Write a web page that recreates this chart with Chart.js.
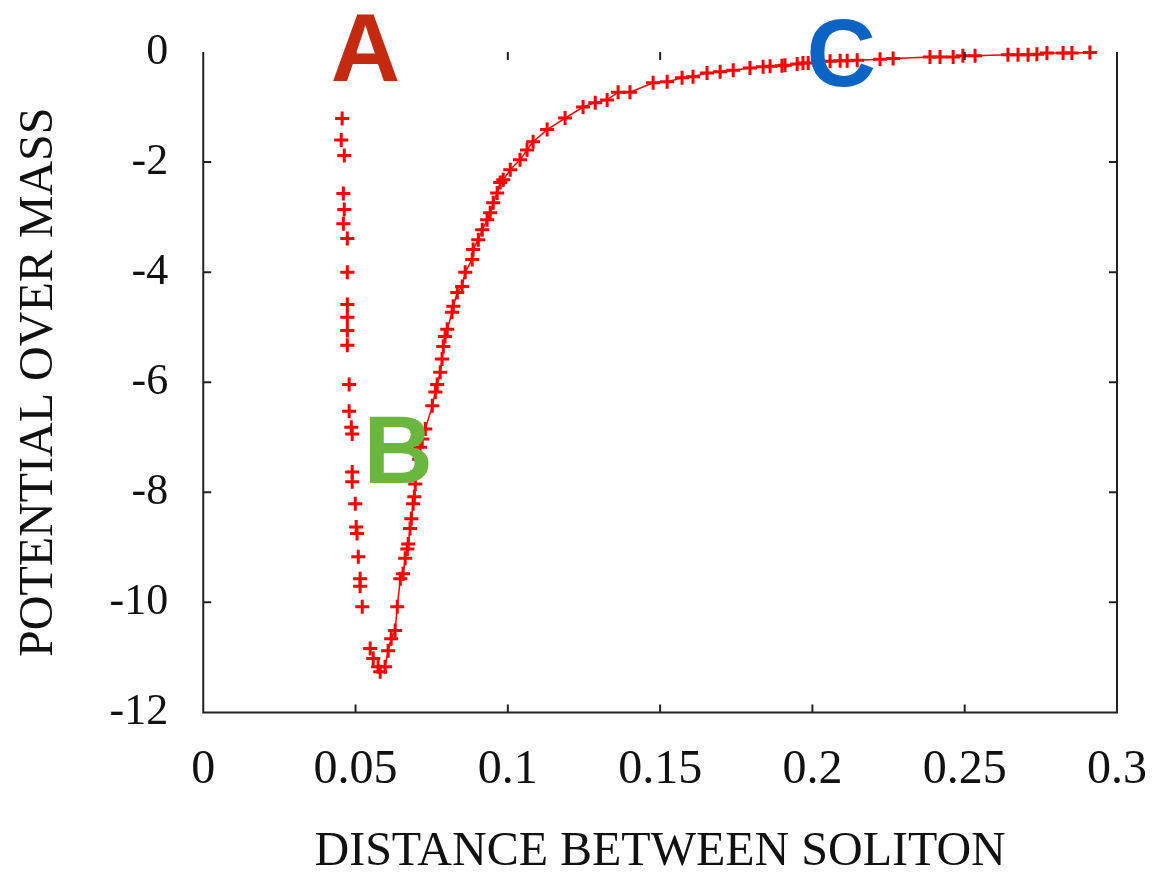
<!DOCTYPE html>
<html>
<head>
<meta charset="utf-8">
<script src="https://cdn.jsdelivr.net/npm/chart.js@4.4.1/dist/chart.umd.min.js"></script>
<style>
  html, body { margin: 0; padding: 0; background: #fff; }
  #wrap { width: 1154px; height: 876px; }
</style>
</head>
<body>
<div id="wrap"><canvas id="potentialChart"></canvas></div>
<script>
// left (inner) branch, marked A
const branchAX = [0.0456, 0.0453, 0.0463, 0.0460, 0.0463, 0.0460, 0.0473, 0.0473, 0.0473, 0.0473,
  0.0473, 0.0473, 0.0479, 0.0479, 0.0486, 0.0489, 0.0489, 0.0489, 0.0499, 0.0502,
  0.0505, 0.0509, 0.0515, 0.0515, 0.0522, 0.0548, 0.0558, 0.0574, 0.0581];
const branchAY = [-1.21, -1.60, -1.88, -2.57, -2.86, -3.12, -3.39, -4.00, -4.59, -4.82,
  -5.06, -5.33, -6.04, -6.53, -6.82, -6.94, -7.63, -7.81, -8.21, -8.63,
  -8.75, -9.17, -9.57, -9.71, -10.08, -10.84, -11.02, -11.17, -11.26];

// right (outer) branch, B up to C
const branchBX = [0.0597, 0.0607, 0.0617, 0.0630, 0.0637, 0.0647, 0.0656, 0.0663, 0.0670, 0.0673,
  0.0679, 0.0683, 0.0689, 0.0693, 0.0696, 0.0702, 0.0709, 0.0712, 0.0719, 0.0729,
  0.0752, 0.0762, 0.0768, 0.0778, 0.0784, 0.0788, 0.0794, 0.0801, 0.0817, 0.0821,
  0.0834, 0.0850, 0.0860, 0.0883, 0.0886, 0.0903, 0.0916, 0.0932, 0.0942, 0.0952,
  0.0965, 0.0975, 0.0985, 0.1008, 0.1040, 0.1063, 0.1083, 0.1129, 0.1188, 0.1247,
  0.1287, 0.1326, 0.1362, 0.1401, 0.1477, 0.1523, 0.1572, 0.1608, 0.1654, 0.1697,
  0.1740, 0.1795, 0.1838, 0.1861, 0.1900, 0.1910, 0.1950, 0.1969, 0.1986, 0.2058,
  0.2091, 0.2114, 0.2147, 0.2222, 0.2265, 0.2386, 0.2419, 0.2462, 0.2494, 0.2534,
  0.2642, 0.2675, 0.2708, 0.2737, 0.2770, 0.2823, 0.2852, 0.2911];
const branchBY = [-11.17, -10.88, -10.66, -10.51, -10.08, -9.57, -9.48, -9.20, -9.03, -8.94,
  -8.66, -8.48, -8.21, -8.08, -7.85, -7.63, -7.40, -7.18, -7.03, -6.85,
  -6.43, -6.18, -6.04, -5.82, -5.58, -5.35, -5.17, -5.04, -4.73, -4.62,
  -4.37, -4.26, -4.00, -3.77, -3.59, -3.41, -3.23, -3.05, -2.92, -2.74,
  -2.56, -2.37, -2.32, -2.14, -1.96, -1.78, -1.63, -1.41, -1.20, -1.00,
  -0.92, -0.87, -0.73, -0.73, -0.56, -0.54, -0.47, -0.45, -0.38, -0.36,
  -0.33, -0.29, -0.27, -0.26, -0.25, -0.24, -0.22, -0.20, -0.20, -0.17,
  -0.16, -0.16, -0.15, -0.13, -0.12, -0.09, -0.09, -0.09, -0.07, -0.07,
  -0.05, -0.05, -0.05, -0.04, -0.02, -0.02, -0.02, -0.01];

const xTicks = [0, 0.05, 0.1, 0.15, 0.2, 0.25, 0.3];
const yTicks = [0, -2, -4, -6, -8, -10, -12];

// region markers (letter, x, y, colour)
const markLetters = ['A', 'B', 'C'];
const markX = [0.0532, 0.0640, 0.2094];
const markY = [0.09, -7.2, 0.0];
const markColors = ['#c42a10', '#6ab73f', '#0b63c3'];

const toPoints = (xs, ys) => xs.map((x, i) => ({ x: x, y: ys[i] }));

// frame, inward ticks and the A/B/C letters
const framePlugin = {
    id: 'frame',
    afterDraw(chart) {
        const { ctx, chartArea: a, scales } = chart;
        const x = scales.x, y = scales.y;
        ctx.save();
        ctx.strokeStyle = '#222';
        ctx.lineWidth = 2;
        ctx.beginPath();
        ctx.moveTo(a.left, a.top);
        ctx.lineTo(a.left, a.bottom);
        ctx.lineTo(a.right, a.bottom);
        ctx.lineTo(a.right, a.top);
        ctx.stroke();

        const len = 8;
        ctx.beginPath();
        xTicks.slice(1, -1).forEach(v => {
            const px = x.getPixelForValue(v);
            ctx.moveTo(px, a.bottom);
            ctx.lineTo(px, a.bottom - len);
            ctx.moveTo(px, a.top);
            ctx.lineTo(px, a.top + len);
        });
        yTicks.slice(1, -1).forEach(v => {
            const py = y.getPixelForValue(v);
            ctx.moveTo(a.left, py);
            ctx.lineTo(a.left + len, py);
            ctx.moveTo(a.right, py);
            ctx.lineTo(a.right - len, py);
        });
        ctx.stroke();

        ctx.font = 'bold 96px "Liberation Sans", Arial, sans-serif';
        ctx.textAlign = 'center';
        ctx.textBaseline = 'alphabetic';
        markLetters.forEach((t, i) => {
            ctx.fillStyle = markColors[i];
            ctx.fillText(t, x.getPixelForValue(markX[i]), y.getPixelForValue(markY[i]) + 0.358 * 96);
        });
        ctx.restore();
    }
};

new Chart(document.getElementById('potentialChart'), {
    type: 'scatter',
    data: {
        datasets: [{
            label: 'A',
            data: toPoints(branchAX, branchAY),
            showLine: false,
            pointStyle: 'cross',
            pointRadius: 7,
            borderColor: '#ff0000',
            backgroundColor: '#ff0000',
            pointBorderWidth: 3,
            clip: false
        }, {
            label: 'B',
            data: toPoints(branchBX, branchBY),
            showLine: true,
            borderWidth: 1.5,
            pointStyle: 'cross',
            pointRadius: 7,
            borderColor: '#ff0000',
            backgroundColor: '#ff0000',
            pointBorderWidth: 3,
            clip: false
        }]
    },
    options: {
        responsive: true,
        maintainAspectRatio: false,
        animation: false,
        layout: {
            padding: { left: 7, top: 52, right: 37, bottom: 0 }
        },
        plugins: {
            legend: { display: false },
            tooltip: { enabled: false }
        },
        scales: {
            x: {
                type: 'linear',
                min: 0,
                max: 0.3,
                afterBuildTicks: axis => { axis.ticks = xTicks.map(v => ({ value: v })); },
                afterFit: axis => { axis.paddingLeft = 0; axis.paddingRight = 0; },
                grid: { display: false, drawTicks: false },
                border: { display: false },
                ticks: {
                    padding: 29,
                    color: '#111',
                    font: { family: '"Liberation Serif", "Times New Roman", serif', size: 48 },
                    callback: v => String(Number(v.toFixed(2)))
                },
                title: {
                    display: true,
                    text: 'DISTANCE BETWEEN SOLITON',
                    color: '#111',
                    font: { family: '"Liberation Serif", "Times New Roman", serif', size: 48, lineHeight: 1 },
                    padding: { top: 0, bottom: 0 }
                }
            },
            y: {
                type: 'linear',
                min: -12,
                max: 0,
                afterBuildTicks: axis => { axis.ticks = yTicks.map(v => ({ value: v })); },
                afterFit: axis => { axis.paddingTop = 0; axis.paddingBottom = 0; },
                grid: { display: false, drawTicks: false },
                border: { display: false },
                ticks: {
                    padding: 35,
                    color: '#111',
                    font: { family: '"Liberation Serif", "Times New Roman", serif', size: 44 }
                },
                title: {
                    display: true,
                    text: 'POTENTIAL OVER MASS',
                    color: '#111',
                    font: { family: '"Liberation Serif", "Times New Roman", serif', size: 48 },
                    padding: { top: 4, bottom: 6 }
                }
            }
        }
    },
    plugins: [framePlugin]
});
</script>
</body>
</html>
